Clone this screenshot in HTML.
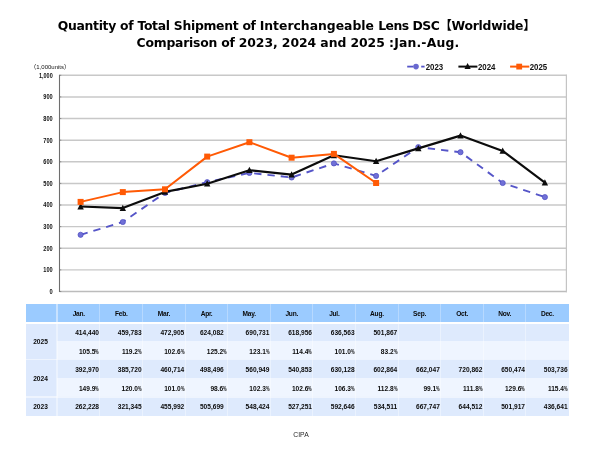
<!DOCTYPE html>
<html><head><meta charset="utf-8"><title>CIPA</title>
<style>
html,body{margin:0;padding:0;background:#fff}
body{width:600px;height:449px;position:relative;overflow:hidden;font-family:"Liberation Sans","Noto Sans CJK JP",sans-serif;color:#111}
.t{position:absolute;left:0;width:600px;text-align:center;font-family:"DejaVu Sans","Noto Sans CJK JP",sans-serif;font-weight:bold;font-size:12.4px;line-height:16px;color:#000;white-space:nowrap}
#wrap{position:absolute;left:0;top:0;width:600px;height:449px;will-change:transform;opacity:.999}
.b{position:absolute}
.c{position:absolute;box-sizing:border-box;font-size:6.6px;font-weight:bold;white-space:nowrap;color:#0a0a0a;overflow:visible}
.c.h{text-align:center;letter-spacing:-0.25px}
.c.y{text-align:center}
.c.n{text-align:right}
.p{display:inline-block;width:3.6px;text-align:left;transform:scaleX(.61);transform-origin:0 50%}
svg text{font-family:"Liberation Sans","Noto Sans CJK JP",sans-serif;fill:#111}
.lg{font-size:8.6px;font-weight:bold}
.ax{font-size:6.6px;font-weight:bold}
.un{font-size:6px}
.src{position:absolute;left:0;width:602px;top:430.6px;text-align:center;font-size:6.8px;color:#262626}
</style></head><body>
<div id="wrap">
<div class="t" style="top:17.8px;left:-3.5px;letter-spacing:-0.24px"><span style="letter-spacing:-0.293px">Quantity of Total Shipment of </span><span style="letter-spacing:-0.015px">Interchangeable </span><span style="letter-spacing:-0.49px">Lens DSC</span><span style="letter-spacing:-0.25px">【Worldwide】</span></div>
<div class="t" style="top:34.5px;left:-2.0px;letter-spacing:-0.06px"><span style="letter-spacing:-0.23px">Comparison of </span>2023, 2024 and 2025 <span style="letter-spacing:0.18px">:Jan.-Aug.</span></div>
<svg width="600" height="449" viewBox="0 0 600 449" style="position:absolute;left:0;top:0">
<line x1="59.5" y1="291.50" x2="566.9" y2="291.50" stroke="#bcbcbc" stroke-width="1.45"/>
<line x1="59.5" y1="291.50" x2="61.3" y2="291.50" stroke="#8f8f8f" stroke-width="1"/>
<line x1="59.5" y1="269.88" x2="566.9" y2="269.88" stroke="#c8c8c8" stroke-width="1.45"/>
<line x1="59.5" y1="269.88" x2="61.3" y2="269.88" stroke="#8f8f8f" stroke-width="1"/>
<line x1="59.5" y1="248.26" x2="566.9" y2="248.26" stroke="#c8c8c8" stroke-width="1.45"/>
<line x1="59.5" y1="248.26" x2="61.3" y2="248.26" stroke="#8f8f8f" stroke-width="1"/>
<line x1="59.5" y1="226.64" x2="566.9" y2="226.64" stroke="#c8c8c8" stroke-width="1.45"/>
<line x1="59.5" y1="226.64" x2="61.3" y2="226.64" stroke="#8f8f8f" stroke-width="1"/>
<line x1="59.5" y1="205.02" x2="566.9" y2="205.02" stroke="#c8c8c8" stroke-width="1.45"/>
<line x1="59.5" y1="205.02" x2="61.3" y2="205.02" stroke="#8f8f8f" stroke-width="1"/>
<line x1="59.5" y1="183.40" x2="566.9" y2="183.40" stroke="#c8c8c8" stroke-width="1.45"/>
<line x1="59.5" y1="183.40" x2="61.3" y2="183.40" stroke="#8f8f8f" stroke-width="1"/>
<line x1="59.5" y1="161.78" x2="566.9" y2="161.78" stroke="#c8c8c8" stroke-width="1.45"/>
<line x1="59.5" y1="161.78" x2="61.3" y2="161.78" stroke="#8f8f8f" stroke-width="1"/>
<line x1="59.5" y1="140.16" x2="566.9" y2="140.16" stroke="#c8c8c8" stroke-width="1.45"/>
<line x1="59.5" y1="140.16" x2="61.3" y2="140.16" stroke="#8f8f8f" stroke-width="1"/>
<line x1="59.5" y1="118.54" x2="566.9" y2="118.54" stroke="#c8c8c8" stroke-width="1.45"/>
<line x1="59.5" y1="118.54" x2="61.3" y2="118.54" stroke="#8f8f8f" stroke-width="1"/>
<line x1="59.5" y1="96.92" x2="566.9" y2="96.92" stroke="#c8c8c8" stroke-width="1.45"/>
<line x1="59.5" y1="96.92" x2="61.3" y2="96.92" stroke="#8f8f8f" stroke-width="1"/>
<line x1="59.5" y1="75.30" x2="566.9" y2="75.30" stroke="#c8c8c8" stroke-width="1.45"/>
<line x1="59.5" y1="75.30" x2="61.3" y2="75.30" stroke="#8f8f8f" stroke-width="1"/>
<line x1="59.5" y1="74.8" x2="59.5" y2="292.0" stroke="#6e6e6e" stroke-width="1.1"/>
<line x1="566.4" y1="74.7" x2="566.4" y2="292.2" stroke="#c4c4c4" stroke-width="1.2"/>
<polyline points="80.6,234.8 122.8,222.0 165.0,192.9 207.2,182.2 249.4,172.9 291.6,177.5 333.9,163.4 376.1,175.9 418.3,147.1 460.5,152.2 502.7,183.0 544.9,197.1" fill="none" stroke="#5555c8" stroke-width="1.9" stroke-dasharray="7.35,6" stroke-dashoffset="0"/>
<circle cx="80.6" cy="234.8" r="2.6" fill="#7070d6" stroke="#4c4cc2" stroke-width="0.7"/>
<circle cx="122.8" cy="222.0" r="2.6" fill="#7070d6" stroke="#4c4cc2" stroke-width="0.7"/>
<circle cx="165.0" cy="192.9" r="2.6" fill="#7070d6" stroke="#4c4cc2" stroke-width="0.7"/>
<circle cx="207.2" cy="182.2" r="2.6" fill="#7070d6" stroke="#4c4cc2" stroke-width="0.7"/>
<circle cx="249.4" cy="172.9" r="2.6" fill="#7070d6" stroke="#4c4cc2" stroke-width="0.7"/>
<circle cx="291.6" cy="177.5" r="2.6" fill="#7070d6" stroke="#4c4cc2" stroke-width="0.7"/>
<circle cx="333.9" cy="163.4" r="2.6" fill="#7070d6" stroke="#4c4cc2" stroke-width="0.7"/>
<circle cx="376.1" cy="175.9" r="2.6" fill="#7070d6" stroke="#4c4cc2" stroke-width="0.7"/>
<circle cx="418.3" cy="147.1" r="2.6" fill="#7070d6" stroke="#4c4cc2" stroke-width="0.7"/>
<circle cx="460.5" cy="152.2" r="2.6" fill="#7070d6" stroke="#4c4cc2" stroke-width="0.7"/>
<circle cx="502.7" cy="183.0" r="2.6" fill="#7070d6" stroke="#4c4cc2" stroke-width="0.7"/>
<circle cx="544.9" cy="197.1" r="2.6" fill="#7070d6" stroke="#4c4cc2" stroke-width="0.7"/>
<polyline points="80.6,206.5 122.8,208.1 165.0,191.9 207.2,183.7 249.4,170.2 291.6,174.6 333.9,155.3 376.1,161.2 418.3,148.4 460.5,135.6 502.7,150.9 544.9,182.6" fill="none" stroke="#0c0c0c" stroke-width="2.15" stroke-linejoin="round"/>
<polygon points="80.6,203.1 83.8,209.4 77.4,209.4" fill="#0c0c0c"/>
<polygon points="122.8,204.7 126.0,211.0 119.6,211.0" fill="#0c0c0c"/>
<polygon points="165.0,188.5 168.2,194.8 161.8,194.8" fill="#0c0c0c"/>
<polygon points="207.2,180.3 210.4,186.6 204.0,186.6" fill="#0c0c0c"/>
<polygon points="249.4,166.8 252.6,173.1 246.2,173.1" fill="#0c0c0c"/>
<polygon points="291.6,171.2 294.8,177.5 288.4,177.5" fill="#0c0c0c"/>
<polygon points="333.9,151.9 337.1,158.2 330.7,158.2" fill="#0c0c0c"/>
<polygon points="376.1,157.8 379.3,164.1 372.9,164.1" fill="#0c0c0c"/>
<polygon points="418.3,145.0 421.5,151.3 415.1,151.3" fill="#0c0c0c"/>
<polygon points="460.5,132.2 463.7,138.5 457.3,138.5" fill="#0c0c0c"/>
<polygon points="502.7,147.5 505.9,153.8 499.5,153.8" fill="#0c0c0c"/>
<polygon points="544.9,179.2 548.1,185.5 541.7,185.5" fill="#0c0c0c"/>
<polyline points="80.6,201.9 122.8,192.1 165.0,189.3 207.2,156.6 249.4,142.2 291.6,157.7 333.9,153.9 376.1,183.0" fill="none" stroke="#ff5a05" stroke-width="2" stroke-linejoin="round"/>
<rect x="77.6" y="198.9" width="6" height="6" fill="#ff5a05"/>
<rect x="119.8" y="189.1" width="6" height="6" fill="#ff5a05"/>
<rect x="162.0" y="186.3" width="6" height="6" fill="#ff5a05"/>
<rect x="204.2" y="153.6" width="6" height="6" fill="#ff5a05"/>
<rect x="246.4" y="139.2" width="6" height="6" fill="#ff5a05"/>
<rect x="288.6" y="154.7" width="6" height="6" fill="#ff5a05"/>
<rect x="330.9" y="150.9" width="6" height="6" fill="#ff5a05"/>
<rect x="373.1" y="180.0" width="6" height="6" fill="#ff5a05"/>
<line x1="407.2" y1="66.6" x2="413.4" y2="66.6" stroke="#5555c8" stroke-width="1.8"/>
<line x1="421.2" y1="66.6" x2="424.6" y2="66.6" stroke="#5555c8" stroke-width="1.8"/>
<circle cx="416" cy="66.6" r="2.8" fill="#6868cf"/>
<line x1="458.4" y1="66.6" x2="477.4" y2="66.6" stroke="#0c0c0c" stroke-width="2"/>
<polygon points="467.6,63.1 470.7,69.0 464.5,69.0" fill="#0c0c0c"/>
<line x1="510.1" y1="66.6" x2="529.3" y2="66.6" stroke="#ff5a05" stroke-width="2"/>
<rect x="516.3" y="63.7" width="5.8" height="5.8" fill="#ff5a05"/>
<text x="425.7" y="69.9" class="lg" textLength="17.5" lengthAdjust="spacingAndGlyphs">2023</text>
<text x="477.9" y="69.9" class="lg" textLength="17.5" lengthAdjust="spacingAndGlyphs">2024</text>
<text x="529.7" y="69.9" class="lg" textLength="17.5" lengthAdjust="spacingAndGlyphs">2025</text>
<text x="49.5" y="293.9" class="ax" textLength="3.2" lengthAdjust="spacingAndGlyphs">0</text>
<text x="43.3" y="272.2" class="ax" textLength="9.4" lengthAdjust="spacingAndGlyphs">100</text>
<text x="43.3" y="250.6" class="ax" textLength="9.4" lengthAdjust="spacingAndGlyphs">200</text>
<text x="43.3" y="229.0" class="ax" textLength="9.4" lengthAdjust="spacingAndGlyphs">300</text>
<text x="43.3" y="207.4" class="ax" textLength="9.4" lengthAdjust="spacingAndGlyphs">400</text>
<text x="43.3" y="185.8" class="ax" textLength="9.4" lengthAdjust="spacingAndGlyphs">500</text>
<text x="43.3" y="164.1" class="ax" textLength="9.4" lengthAdjust="spacingAndGlyphs">600</text>
<text x="43.3" y="142.5" class="ax" textLength="9.4" lengthAdjust="spacingAndGlyphs">700</text>
<text x="43.3" y="120.9" class="ax" textLength="9.4" lengthAdjust="spacingAndGlyphs">800</text>
<text x="43.3" y="99.3" class="ax" textLength="9.4" lengthAdjust="spacingAndGlyphs">900</text>
<text x="39.0" y="77.7" class="ax" textLength="13.7" lengthAdjust="spacingAndGlyphs">1,000</text>
<text x="30.3" y="68.8" class="un">（1,000units）</text>
</svg>
<div class="b" style="left:25.90px;top:304.10px;width:542.80px;height:17.70px;background:#9bcbff"></div>
<div class="b" style="left:25.90px;top:323.80px;width:542.80px;height:92.00px;background:#eef4fe"></div>
<div class="b" style="left:57.35px;top:323.80px;width:511.35px;height:17.00px;background:#deeafd"></div>
<div class="b" style="left:57.35px;top:340.80px;width:511.35px;height:18.20px;background:#eff5ff"></div>
<div class="b" style="left:57.35px;top:360.40px;width:511.35px;height:17.60px;background:#deeafd"></div>
<div class="b" style="left:57.35px;top:378.00px;width:511.35px;height:18.10px;background:#eff5ff"></div>
<div class="b" style="left:57.35px;top:397.50px;width:511.35px;height:18.30px;background:#deeafd"></div>
<div class="b" style="left:25.90px;top:323.80px;width:31.45px;height:35.20px;background:#dde9fd"></div>
<div class="b" style="left:25.90px;top:360.40px;width:31.45px;height:35.70px;background:#dde9fd"></div>
<div class="b" style="left:25.90px;top:397.50px;width:31.45px;height:18.30px;background:#dde9fd"></div>
<div class="b" style="left:56.20px;top:304.1px;width:1.6px;height:17.7px;background:rgba(255,255,255,.45)"></div>
<div class="b" style="left:56.30px;top:323.8px;width:1.4px;height:92px;background:rgba(255,255,255,.4)"></div>
<div class="b" style="left:99.40px;top:304.1px;width:1.1px;height:17.7px;background:rgba(255,255,255,.28)"></div>
<div class="b" style="left:99.40px;top:323.8px;width:1.1px;height:92px;background:rgba(255,255,255,.38)"></div>
<div class="b" style="left:142.00px;top:304.1px;width:1.1px;height:17.7px;background:rgba(255,255,255,.28)"></div>
<div class="b" style="left:142.00px;top:323.8px;width:1.1px;height:92px;background:rgba(255,255,255,.38)"></div>
<div class="b" style="left:184.60px;top:304.1px;width:1.1px;height:17.7px;background:rgba(255,255,255,.28)"></div>
<div class="b" style="left:184.60px;top:323.8px;width:1.1px;height:92px;background:rgba(255,255,255,.38)"></div>
<div class="b" style="left:227.20px;top:304.1px;width:1.1px;height:17.7px;background:rgba(255,255,255,.28)"></div>
<div class="b" style="left:227.20px;top:323.8px;width:1.1px;height:92px;background:rgba(255,255,255,.38)"></div>
<div class="b" style="left:269.80px;top:304.1px;width:1.1px;height:17.7px;background:rgba(255,255,255,.28)"></div>
<div class="b" style="left:269.80px;top:323.8px;width:1.1px;height:92px;background:rgba(255,255,255,.38)"></div>
<div class="b" style="left:312.40px;top:304.1px;width:1.1px;height:17.7px;background:rgba(255,255,255,.28)"></div>
<div class="b" style="left:312.40px;top:323.8px;width:1.1px;height:92px;background:rgba(255,255,255,.38)"></div>
<div class="b" style="left:355.00px;top:304.1px;width:1.1px;height:17.7px;background:rgba(255,255,255,.28)"></div>
<div class="b" style="left:355.00px;top:323.8px;width:1.1px;height:92px;background:rgba(255,255,255,.38)"></div>
<div class="b" style="left:397.60px;top:304.1px;width:1.1px;height:17.7px;background:rgba(255,255,255,.28)"></div>
<div class="b" style="left:397.60px;top:323.8px;width:1.1px;height:92px;background:rgba(255,255,255,.38)"></div>
<div class="b" style="left:440.20px;top:304.1px;width:1.1px;height:17.7px;background:rgba(255,255,255,.28)"></div>
<div class="b" style="left:440.20px;top:323.8px;width:1.1px;height:92px;background:rgba(255,255,255,.38)"></div>
<div class="b" style="left:482.80px;top:304.1px;width:1.1px;height:17.7px;background:rgba(255,255,255,.28)"></div>
<div class="b" style="left:482.80px;top:323.8px;width:1.1px;height:92px;background:rgba(255,255,255,.38)"></div>
<div class="b" style="left:525.40px;top:304.1px;width:1.1px;height:17.7px;background:rgba(255,255,255,.28)"></div>
<div class="b" style="left:525.40px;top:323.8px;width:1.1px;height:92px;background:rgba(255,255,255,.38)"></div>
<div class="c h" style="left:57.45px;top:305.30px;width:42.60px;height:17.70px;line-height:17.70px">Jan.</div>
<div class="c h" style="left:100.05px;top:305.30px;width:42.60px;height:17.70px;line-height:17.70px">Feb.</div>
<div class="c h" style="left:142.65px;top:305.30px;width:42.60px;height:17.70px;line-height:17.70px">Mar.</div>
<div class="c h" style="left:185.25px;top:305.30px;width:42.60px;height:17.70px;line-height:17.70px">Apr.</div>
<div class="c h" style="left:227.85px;top:305.30px;width:42.60px;height:17.70px;line-height:17.70px">May.</div>
<div class="c h" style="left:270.45px;top:305.30px;width:42.60px;height:17.70px;line-height:17.70px">Jun.</div>
<div class="c h" style="left:313.05px;top:305.30px;width:42.60px;height:17.70px;line-height:17.70px">Jul.</div>
<div class="c h" style="left:355.65px;top:305.30px;width:42.60px;height:17.70px;line-height:17.70px">Aug.</div>
<div class="c h" style="left:398.25px;top:305.30px;width:42.60px;height:17.70px;line-height:17.70px">Sep.</div>
<div class="c h" style="left:440.85px;top:305.30px;width:42.60px;height:17.70px;line-height:17.70px">Oct.</div>
<div class="c h" style="left:483.45px;top:305.30px;width:42.60px;height:17.70px;line-height:17.70px">Nov.</div>
<div class="c h" style="left:526.05px;top:305.30px;width:42.60px;height:17.70px;line-height:17.70px">Dec.</div>
<div class="c y" style="left:24.80px;top:324.00px;width:31.45px;height:35.20px;line-height:35.20px">2025</div>
<div class="c y" style="left:24.80px;top:361.00px;width:31.45px;height:35.70px;line-height:35.70px">2024</div>
<div class="c y" style="left:24.80px;top:398.00px;width:31.45px;height:17.60px;line-height:17.60px">2023</div>
<div class="c n" style="left:57.35px;top:323.80px;width:41.70px;height:17.00px;line-height:17.00px">414,440</div>
<div class="c n" style="left:99.95px;top:323.80px;width:41.70px;height:17.00px;line-height:17.00px">459,783</div>
<div class="c n" style="left:142.55px;top:323.80px;width:41.70px;height:17.00px;line-height:17.00px">472,905</div>
<div class="c n" style="left:182.05px;top:323.80px;width:41.70px;height:17.00px;line-height:17.00px">624,082</div>
<div class="c n" style="left:227.75px;top:323.80px;width:41.70px;height:17.00px;line-height:17.00px">690,731</div>
<div class="c n" style="left:270.35px;top:323.80px;width:41.70px;height:17.00px;line-height:17.00px">618,956</div>
<div class="c n" style="left:312.95px;top:323.80px;width:41.70px;height:17.00px;line-height:17.00px">636,563</div>
<div class="c n" style="left:355.55px;top:323.80px;width:41.70px;height:17.00px;line-height:17.00px">501,867</div>
<div class="c n" style="left:57.35px;top:342.60px;width:41.70px;height:18.20px;line-height:18.20px">105.5<span class="p">%</span></div>
<div class="c n" style="left:99.95px;top:342.60px;width:41.70px;height:18.20px;line-height:18.20px">119.2<span class="p">%</span></div>
<div class="c n" style="left:142.55px;top:342.60px;width:41.70px;height:18.20px;line-height:18.20px">102.6<span class="p">%</span></div>
<div class="c n" style="left:185.15px;top:342.60px;width:41.70px;height:18.20px;line-height:18.20px">125.2<span class="p">%</span></div>
<div class="c n" style="left:227.75px;top:342.60px;width:41.70px;height:18.20px;line-height:18.20px">123.1<span class="p">%</span></div>
<div class="c n" style="left:270.35px;top:342.60px;width:41.70px;height:18.20px;line-height:18.20px">114.4<span class="p">%</span></div>
<div class="c n" style="left:312.95px;top:342.60px;width:41.70px;height:18.20px;line-height:18.20px">101.0<span class="p">%</span></div>
<div class="c n" style="left:355.55px;top:342.60px;width:41.70px;height:18.20px;line-height:18.20px">83.2<span class="p">%</span></div>
<div class="c n" style="left:57.35px;top:361.40px;width:41.70px;height:17.60px;line-height:17.60px">392,970</div>
<div class="c n" style="left:99.95px;top:361.40px;width:41.70px;height:17.60px;line-height:17.60px">385,720</div>
<div class="c n" style="left:142.55px;top:361.40px;width:41.70px;height:17.60px;line-height:17.60px">460,714</div>
<div class="c n" style="left:182.05px;top:361.40px;width:41.70px;height:17.60px;line-height:17.60px">498,496</div>
<div class="c n" style="left:227.75px;top:361.40px;width:41.70px;height:17.60px;line-height:17.60px">560,949</div>
<div class="c n" style="left:270.35px;top:361.40px;width:41.70px;height:17.60px;line-height:17.60px">540,853</div>
<div class="c n" style="left:312.95px;top:361.40px;width:41.70px;height:17.60px;line-height:17.60px">630,128</div>
<div class="c n" style="left:355.55px;top:361.40px;width:41.70px;height:17.60px;line-height:17.60px">602,864</div>
<div class="c n" style="left:398.15px;top:361.40px;width:41.70px;height:17.60px;line-height:17.60px">662,047</div>
<div class="c n" style="left:440.75px;top:361.40px;width:41.70px;height:17.60px;line-height:17.60px">720,862</div>
<div class="c n" style="left:483.35px;top:361.40px;width:41.70px;height:17.60px;line-height:17.60px">650,474</div>
<div class="c n" style="left:525.95px;top:361.40px;width:41.70px;height:17.60px;line-height:17.60px">503,736</div>
<div class="c n" style="left:57.35px;top:379.60px;width:41.70px;height:18.10px;line-height:18.10px">149.9<span class="p">%</span></div>
<div class="c n" style="left:99.95px;top:379.60px;width:41.70px;height:18.10px;line-height:18.10px">120.0<span class="p">%</span></div>
<div class="c n" style="left:142.55px;top:379.60px;width:41.70px;height:18.10px;line-height:18.10px">101.0<span class="p">%</span></div>
<div class="c n" style="left:185.15px;top:379.60px;width:41.70px;height:18.10px;line-height:18.10px">98.6<span class="p">%</span></div>
<div class="c n" style="left:227.75px;top:379.60px;width:41.70px;height:18.10px;line-height:18.10px">102.3<span class="p">%</span></div>
<div class="c n" style="left:270.35px;top:379.60px;width:41.70px;height:18.10px;line-height:18.10px">102.6<span class="p">%</span></div>
<div class="c n" style="left:312.95px;top:379.60px;width:41.70px;height:18.10px;line-height:18.10px">106.3<span class="p">%</span></div>
<div class="c n" style="left:355.55px;top:379.60px;width:41.70px;height:18.10px;line-height:18.10px">112.8<span class="p">%</span></div>
<div class="c n" style="left:398.15px;top:379.60px;width:41.70px;height:18.10px;line-height:18.10px">99.1<span class="p">%</span></div>
<div class="c n" style="left:440.75px;top:379.60px;width:41.70px;height:18.10px;line-height:18.10px">111.8<span class="p">%</span></div>
<div class="c n" style="left:483.35px;top:379.60px;width:41.70px;height:18.10px;line-height:18.10px">129.6<span class="p">%</span></div>
<div class="c n" style="left:525.95px;top:379.60px;width:41.70px;height:18.10px;line-height:18.10px">115.4<span class="p">%</span></div>
<div class="c n" style="left:57.35px;top:397.50px;width:41.70px;height:18.30px;line-height:18.30px">262,228</div>
<div class="c n" style="left:99.95px;top:397.50px;width:41.70px;height:18.30px;line-height:18.30px">321,345</div>
<div class="c n" style="left:142.55px;top:397.50px;width:41.70px;height:18.30px;line-height:18.30px">455,992</div>
<div class="c n" style="left:182.05px;top:397.50px;width:41.70px;height:18.30px;line-height:18.30px">505,699</div>
<div class="c n" style="left:227.75px;top:397.50px;width:41.70px;height:18.30px;line-height:18.30px">548,424</div>
<div class="c n" style="left:270.35px;top:397.50px;width:41.70px;height:18.30px;line-height:18.30px">527,251</div>
<div class="c n" style="left:312.95px;top:397.50px;width:41.70px;height:18.30px;line-height:18.30px">592,646</div>
<div class="c n" style="left:355.55px;top:397.50px;width:41.70px;height:18.30px;line-height:18.30px">534,511</div>
<div class="c n" style="left:398.15px;top:397.50px;width:41.70px;height:18.30px;line-height:18.30px">667,747</div>
<div class="c n" style="left:440.75px;top:397.50px;width:41.70px;height:18.30px;line-height:18.30px">644,512</div>
<div class="c n" style="left:483.35px;top:397.50px;width:41.70px;height:18.30px;line-height:18.30px">501,917</div>
<div class="c n" style="left:525.95px;top:397.50px;width:41.70px;height:18.30px;line-height:18.30px">436,641</div>
<div class="src">CIPA</div>
</div>
</body></html>
